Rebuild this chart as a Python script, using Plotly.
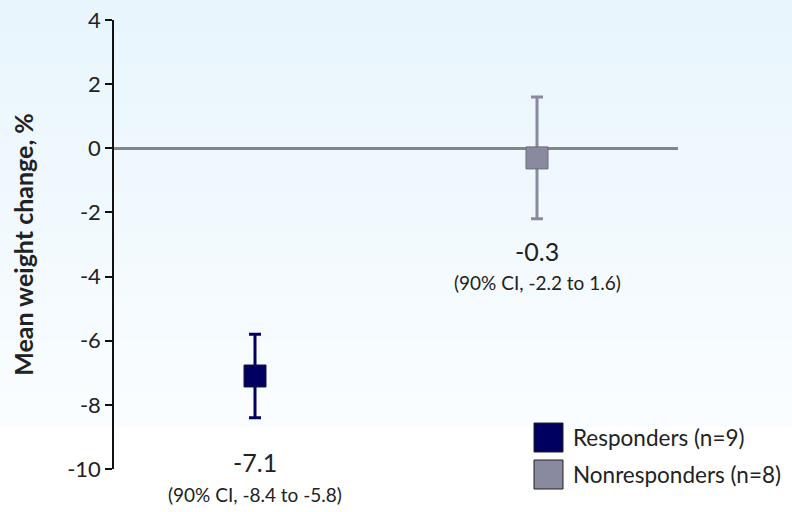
import plotly.graph_objects as go

groups = ["Responders (n=9)", "Nonresponders (n=8)"]
x_pos = [1, 3]
means = [-7.1, -0.3]
ci_low = [-8.4, -2.2]
ci_high = [-5.8, 1.6]
mean_labels = ["-7.1", "-0.3"]
ci_labels = ["(90% CI, -8.4 to -5.8)", "(90% CI, -2.2 to 1.6)"]
y_ticks = [4, 2, 0, -2, -4, -6, -8, -10]

colors = ["#000060", "#8a8a9e"]
outline = ["#1a1a3a", "#6a6a7e"]
# per-label pixel shifts from the lower CI end
shift_mean = [-44, -32]
shift_ci = [-77, -64]

fig = go.Figure()

# background gradient (light blue at top to white), pixel y 0..427
n = 40
top = (232, 245, 253)
bot = (250, 253, 255)
shapes = []
for i in range(n):
    t = i / (n - 1)
    c = tuple(int(round(top[k] + (bot[k] - top[k]) * t)) for k in range(3))
    py0 = 427 * i / n
    py1 = 427 * (i + 1) / n
    yp_top = (469 - py0) / 449
    yp_bot = (469 - py1) / 449
    shapes.append(dict(type="rect", xref="paper", yref="paper", x0=-0.3, x1=1.3,
                       y0=yp_bot, y1=yp_top + (0.1 if i == 0 else 0.002),
                       fillcolor="rgb(%d,%d,%d)" % c, line_width=0, layer="below"))

for i in range(2):
    fig.add_trace(go.Scatter(
        x=[x_pos[i]], y=[means[i]], mode="markers", name=groups[i],
        marker=dict(symbol="square", size=22, color=colors[i],
                    line=dict(color=outline[i], width=1)),
        error_y=dict(type="data", symmetric=False,
                     array=[ci_high[i] - means[i]],
                     arrayminus=[means[i] - ci_low[i]],
                     color=colors[i], thickness=3, width=6),
        showlegend=False, cliponaxis=False,
    ))

annotations = []
for i in range(2):
    annotations.append(dict(x=x_pos[i], y=ci_low[i], xref="x", yref="y",
                            text=mean_labels[i], showarrow=False, yshift=shift_mean[i],
                            font=dict(size=25, color="#222222")))
    annotations.append(dict(x=x_pos[i], y=ci_low[i], xref="x", yref="y",
                            text=ci_labels[i], showarrow=False, yshift=shift_ci[i],
                            font=dict(size=19, color="#222222")))

# manual legend
for i in range(2):
    ytop = (469 - (423 + 37 * i)) / 449
    ybot = (469 - (452 + 37 * i)) / 449
    shapes.append(dict(type="rect", xref="paper", yref="paper",
                       x0=(534 - 114) / 564, x1=(563 - 114) / 564,
                       y0=ybot, y1=ytop, fillcolor=colors[i],
                       line=dict(color="#222222", width=1)))
    annotations.append(dict(xref="paper", yref="paper",
                            x=(571 - 114) / 564, y=(ytop + ybot) / 2,
                            xanchor="left", yanchor="middle", showarrow=False,
                            text=groups[i], font=dict(size=22.5, color="#222222")))

fig.update_layout(
    width=792, height=512,
    margin=dict(l=114, r=114, t=20, b=43, autoexpand=False),
    paper_bgcolor="white", plot_bgcolor="rgba(0,0,0,0)",
    font=dict(family="Lato, Noto Sans, sans-serif", color="#222222"),
    shapes=shapes, annotations=annotations,
    xaxis=dict(range=[0, 4], showgrid=False, zeroline=False, showticklabels=False,
               showline=False, ticks="", automargin=False),
    yaxis=dict(range=[-10, 4], tickvals=y_ticks, ticktext=[str(v) for v in y_ticks],
               automargin=False,
               showgrid=False, zeroline=True, zerolinecolor="#858585", zerolinewidth=2.5,
               showline=True, linecolor="#111111", linewidth=1.5,
               ticks="outside", ticklen=7, tickcolor="#111111", tickwidth=1.5,
               tickfont=dict(size=22, color="#222222"),
               title=dict(text="<b>Mean weight change, %</b>", font=dict(size=25, color="#222222"),
                          standoff=26)),
)

fig.write_html("out.html", config={"displayModeBar": False},
               post_script="document.body.style.margin='0';")
